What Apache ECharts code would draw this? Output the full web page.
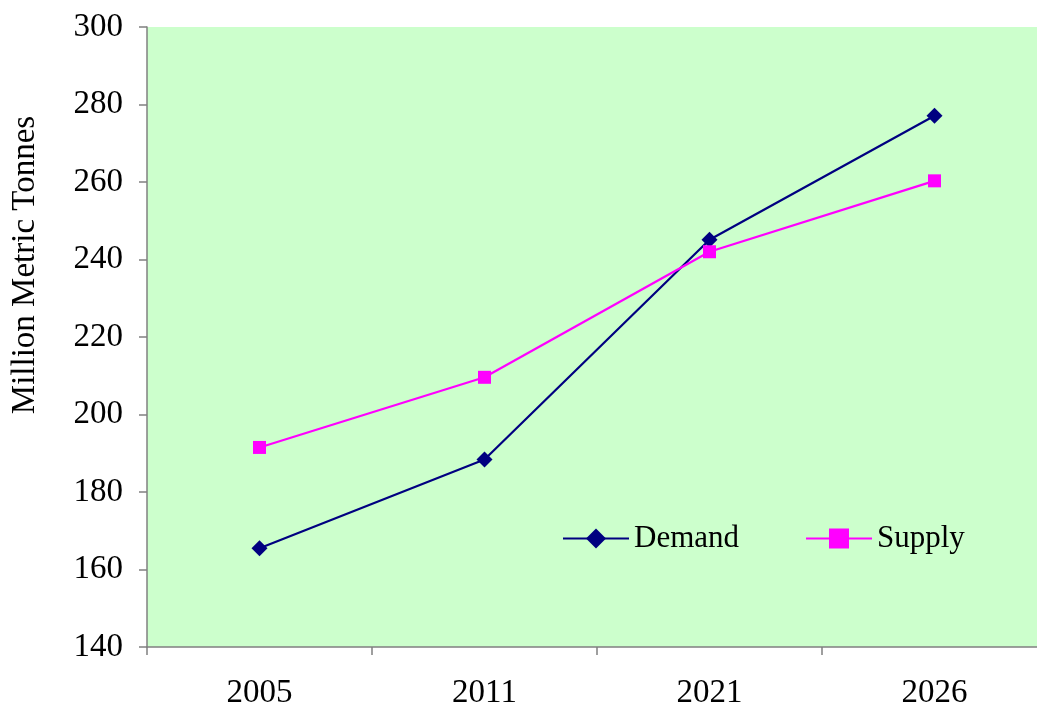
<!DOCTYPE html>
<html><head><meta charset="utf-8">
<script src="https://cdn.jsdelivr.net/npm/echarts@6/dist/echarts.min.js"></script>
<style>html,body{margin:0;padding:0;background:#fff}#c{width:1037px;height:706px}</style>
</head><body><div id="c"></div>
<script>
const categories = ['2005', '2011', '2021', '2026'];
const demand = [165.5, 188.4, 245.1, 277.1];
const supply = [191.5, 209.6, 242.0, 260.3];
const yTicks = {min: 140, max: 300, interval: 20};
const yTitle = 'Million Metric Tonnes';

const font = 'Liberation Serif, Times New Roman, serif';
const chart = echarts.init(document.getElementById('c'));
chart.setOption({
  animation: false,
  backgroundColor: '#ffffff',
  grid: {left: 147, right: -10, top: 27, bottom: 59, show: true, backgroundColor: '#CCFFCC', borderWidth: 0,
         containLabel: false, outerBoundsMode: 'none'},
  graphic: [{
    type: 'text', x: 25, y: 265, rotation: Math.PI / 2,
    style: {text: yTitle, fontFamily: font, fontSize: 33, fill: '#000', align: 'center', verticalAlign: 'middle'}
  }],
  legend: {
    left: 562, top: 523, padding: 0, itemWidth: 66, itemHeight: 25, itemGap: 66,
    textStyle: {fontFamily: font, fontSize: 31, color: '#000'},
    data: ['Demand', 'Supply']
  },
  xAxis: {
    type: 'category', data: categories, boundaryGap: true,
    axisLine: {lineStyle: {color: '#808080', width: 1.5}},
    axisTick: {show: true, length: 8, lineStyle: {color: '#808080', width: 1.5}},
    axisLabel: {fontFamily: font, fontSize: 33, color: '#000', margin: 30}
  },
  yAxis: {
    type: 'value', min: yTicks.min, max: yTicks.max, interval: yTicks.interval,
    axisLine: {show: true, lineStyle: {color: '#808080', width: 1.5}},
    axisTick: {show: true, length: 8, lineStyle: {color: '#808080', width: 1.5}},
    splitLine: {show: false},
    axisLabel: {fontFamily: font, fontSize: 33, color: '#000', margin: 24}
  },
  series: [
    {name: 'Demand', type: 'line', data: demand, symbol: 'diamond', symbolSize: 16,
     itemStyle: {color: '#000080'}, lineStyle: {color: '#000080', width: 2.2}},
    {name: 'Supply', type: 'line', data: supply, symbol: 'rect', symbolSize: 13,
     itemStyle: {color: '#FF00FF'}, lineStyle: {color: '#FF00FF', width: 2.2}}
  ]
});
</script></body></html>
